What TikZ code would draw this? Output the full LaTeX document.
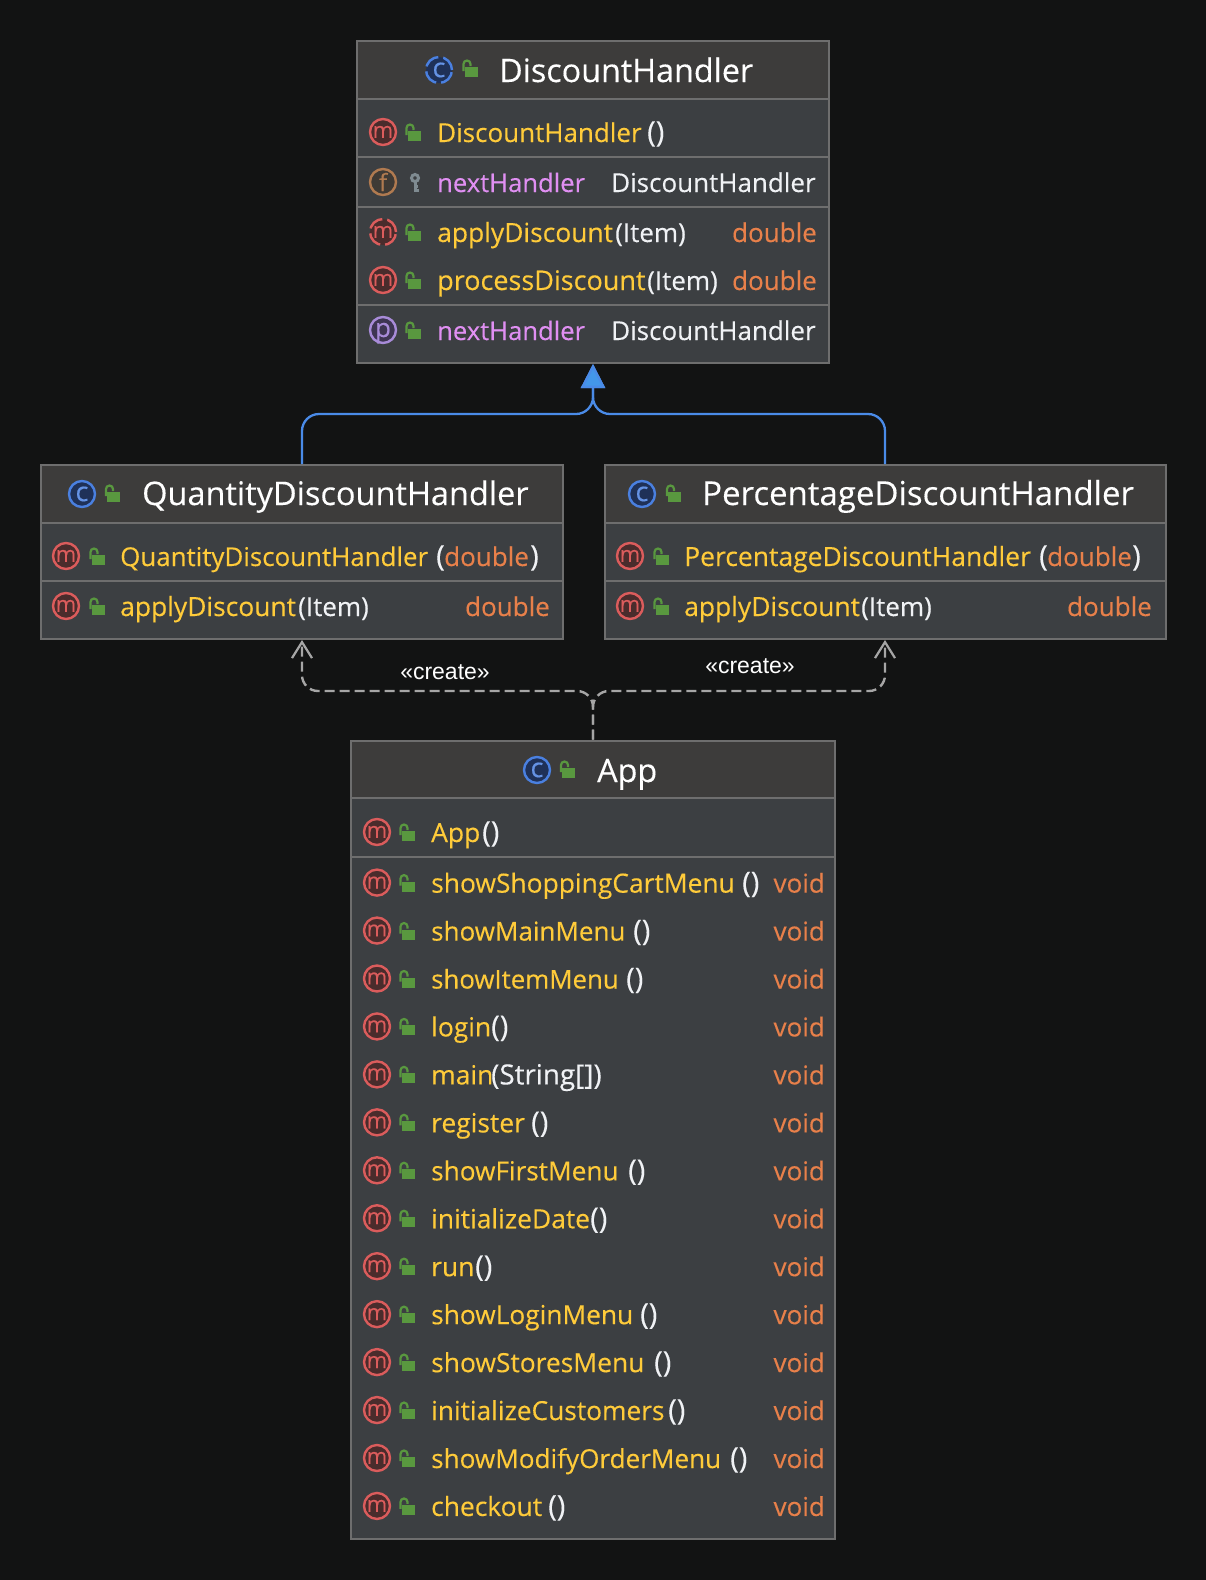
\documentclass[tikz,border=0pt]{standalone}
\usepackage{fontspec}
\setmainfont{Open Sans}[FakeBold=0.25]
\newfontfamily\labelfont{Liberation Sans}
\usetikzlibrary{arrows.meta}
\definecolor{bgcol}{HTML}{121313}
\definecolor{headcol}{HTML}{3D3C3B}
\definecolor{bodycol}{HTML}{3C3F42}
\definecolor{edgecol}{HTML}{6E6E6E}
\definecolor{methodcol}{HTML}{FFCB3A}
\definecolor{fieldcol}{HTML}{E08FF2}
\definecolor{typecol}{HTML}{E8804A}
\definecolor{plaincol}{HTML}{F0F2F5}
\definecolor{lockcol}{HTML}{59983F}
\definecolor{keycol}{HTML}{7F8B91}
\definecolor{bluecol}{HTML}{4A8BE8}
\definecolor{dashcol}{HTML}{A6A6A6}
\definecolor{mline}{HTML}{DB5C5C}
\definecolor{mfill}{HTML}{4A2C2C}
\definecolor{fline}{HTML}{B07A50}
\definecolor{ffill}{HTML}{3F3A35}
\definecolor{pline}{HTML}{A88BD8}
\definecolor{pfill}{HTML}{3E3552}
\definecolor{cline}{HTML}{4A80E0}
\definecolor{cfill}{HTML}{1F3158}
\tikzset{
  classbox/.style={draw=edgecol,line width=2pt,fill=bodycol,inner sep=0pt},
  sepline/.style={draw=edgecol,line width=2pt},
  icon/.style={circle,line width=2.4pt,minimum size=26pt,inner sep=0pt,font=\fontsize{22}{22}\selectfont},
  micon/.style={icon,draw=mline,fill=mfill,text=mline,text height=11.8pt,text depth=0pt},
  ficon/.style={icon,draw=fline,fill=ffill,text=fline,font=\fontsize{24}{24}\selectfont},
  picon/.style={icon,draw=pline,fill=pfill,text=pline,text height=14pt,text depth=0pt,font=\fontsize{26}{26}\selectfont},
  cicon/.style={icon,draw=cline,fill=cfill,text=cline!85!white,text height=14.4pt,text depth=0pt,font=\fontsize{27}{27}\selectfont},
  absicon/.style={dash pattern=on 16pt off 5pt},
  rowtext/.style={anchor=base west,inner sep=0pt,font=\fontsize{26.4}{30}\selectfont},
  rowsize/.style={font=\fontsize{#1}{30}\selectfont},
  titletext/.style={anchor=base west,inner sep=0pt,text=white,font=\fontsize{32.3}{36}\selectfont},
  mtext/.style={rowtext,text=methodcol},
  ftext/.style={rowtext,text=fieldcol,rowsize=25.6},
  ttext/.style={rowtext,text=typecol,rowsize=26},
  ptext/.style={rowtext,text=plaincol,rowsize=26},
  parens/.style={ptext,rowsize=29},
  inherit/.style={draw=bluecol,line width=2.3pt,rounded corners=17pt,-{Triangle[width=24pt,length=24pt,fill=bluecol!90!cyan]}},
  create/.style={draw=dashcol,line width=2.4pt,rounded corners=16pt,dash pattern=on 10pt off 5pt,-{Straight Barb[width=20pt,length=16pt,line width=2.2pt]}},
  createlabel/.style={inner sep=0pt,text=white,font=\labelfont\fontsize{23}{26}\selectfont},
}
\newcommand{\lockicon}[2]{
\draw[lockcol,line width=2.2pt] (#1-7.5,#2+3) -- (#1-7.5,#2-4) arc[start angle=180,end angle=0,radius=3.5pt] -- ++(0,2);
\fill[lockcol] (#1-6.5,#2-1) rectangle (#1+6.5,#2+9);
}
\newcommand{\boxheader}[5]{
\fill[headcol] (#2,#3) rectangle (#4,#5);
\draw[sepline] (#2,#5) -- (#4,#5);
\draw[edgecol,line width=2pt] (#2,#3) rectangle (#4,#5);
}
\begin{document}
\begin{tikzpicture}[x=1pt,y=-1pt]
\useasboundingbox (0,0) rectangle (1206,1580);
\fill[bgcol] (0,0) rectangle (1206,1580);
\node[classbox,minimum width=472pt,minimum height=322pt] (base) at (593,202) {};
\boxheader{base}{357}{41}{829}{99}
\draw[sepline] (357,157) -- (829,157);
\draw[sepline] (357,207) -- (829,207);
\draw[sepline] (357,305) -- (829,305);
\node[cicon,absicon] (baseicon) at (439,70) {c};
\lockicon{471}{68}
\node[titletext] (basetitle) at (499,82) {DiscountHandler};
\node[micon] (basem1) at (383,132) {m};
\lockicon{414}{132}
\node[mtext,rowsize=26] (basector) at (437,142) {DiscountHandler};
\node[parens] (basectorargs) at (647,142) {()};
\node[ficon] (basef) at (383,182) {f};
\draw[keycol,line width=3pt] (415,178) circle (3.5pt);
\draw[keycol,line width=3pt] (415,181) -- (415,192) (415,190) -- (419,190) (415,186) -- (418,186);
\node[ftext] (basefname) at (437,192) {nextHandler};
\node[ptext] (baseftype) at (611,192) {DiscountHandler};
\node[micon,absicon] (basem2) at (383,232) {m};
\lockicon{414}{232}
\node[mtext] (baseapply) at (437,242) {applyDiscount};
\node[ptext] (baseapplyargs) at (615,242) {(Item)};
\node[ttext,anchor=base east] (baseapplytype) at (817,242) {double};
\node[micon] (basem3) at (383,280) {m};
\lockicon{414}{280}
\node[mtext,rowsize=27] (baseproc) at (437,290) {processDiscount};
\node[ptext] (baseprocargs) at (647,290) {(Item)};
\node[ttext,anchor=base east] (baseproctype) at (817,290) {double};
\node[picon] (basep) at (383,330) {p};
\lockicon{414}{330}
\node[ftext] (basepname) at (437,340) {nextHandler};
\node[ptext] (baseptype) at (611,340) {DiscountHandler};
\node[classbox,minimum width=522pt,minimum height=174pt] (qdh) at (302,552) {};
\boxheader{qdh}{41}{465}{563}{523}
\draw[sepline] (41,581) -- (563,581);
\node[cicon] (qdhicon) at (82,494) {c};
\lockicon{113.5}{493}
\node[titletext,font=\fontsize{32.5}{36}\selectfont] (qdhtitle) at (142,505) {QuantityDiscountHandler};
\node[micon] (qdhm1) at (66,556) {m};
\lockicon{98}{556}
\node[mtext,rowsize=25.9] (qdhctor) at (120,566) {QuantityDiscountHandler};
\node[parens] (qdhopen) at (436,566) {(};
\node[ttext] (qdhctorargs) at (444,566) {double};
\node[parens] (qdhclose) at (530,566) {)};
\node[micon] (qdhm2) at (66,606) {m};
\lockicon{98}{606}
\node[mtext] (qdhapply) at (120,616) {applyDiscount};
\node[ptext] (qdhapplyargs) at (298,616) {(Item)};
\node[ttext,anchor=base east] (qdhapplytype) at (550,616) {double};
\node[classbox,minimum width=561pt,minimum height=174pt] (pdh) at (885,552) {};
\boxheader{pdh}{604.5}{465}{1165.5}{523}
\draw[sepline] (604.5,581) -- (1165.5,581);
\node[cicon] (pdhicon) at (642,494) {c};
\lockicon{674.5}{493}
\node[titletext,font=\fontsize{33}{36}\selectfont] (pdhtitle) at (702,505) {PercentageDiscountHandler};
\node[micon] (pdhm1) at (630,556) {m};
\lockicon{662}{556}
\node[mtext,rowsize=26.5] (pdhctor) at (684,566) {PercentageDiscountHandler};
\node[parens] (pdhopen) at (1039,566) {(};
\node[ttext] (pdhctorargs) at (1047,566) {double};
\node[parens] (pdhclose) at (1132,566) {)};
\node[micon] (pdhm2) at (630,606) {m};
\lockicon{662}{606}
\node[mtext] (pdhapply) at (684,616) {applyDiscount};
\node[ptext] (pdhapplyargs) at (861,616) {(Item)};
\node[ttext,anchor=base east] (pdhapplytype) at (1152,616) {double};
\node[classbox,minimum width=484pt,minimum height=798pt] (app) at (593,1139.5) {};
\boxheader{app}{351}{740.5}{835}{798}
\draw[sepline] (351,857) -- (835,857);
\node[cicon] (appicon) at (537,770) {c};
\lockicon{568.5}{769}
\node[titletext] (apptitle) at (597,782) {App};
\node[micon] (appctoricon) at (377,832) {m};
\lockicon{408}{832}
\node[mtext] (appctor) at (431,842) {App};
\node[parens] (appctorargs) at (482,842) {()};
\foreach \mname/\argx/\msize [count=\i] in {showShoppingCartMenu/742/26.4,showMainMenu/633/26,showItemMenu/626/25.8,login/491/26.4,main/491/26.4,register/531/26.4,showFirstMenu/628/26.2,initializeDate/590/26.4,run/475/26.4,showLoginMenu/640/26.3,showStoresMenu/654/26.4,initializeCustomers/668/26.3,showModifyOrderMenu/730/26.1,checkout/548/26.4}
{
\pgfmathsetmacro{\rowy}{882.6+(\i-1)*47.95}
\node[micon] (appicon\i) at (377,\rowy) {m};
\lockicon{408}{\rowy}
\node[mtext,rowsize=\msize] (appname\i) at (431,\rowy+10) {\mname};
\ifnum\i=5
\node[parens,rowsize=27.8] (appargs\i) at (\argx,\rowy+10) {(String[])};
\else
\node[parens] (appargs\i) at (\argx,\rowy+10) {()};
\fi
\node[ttext,anchor=base east] (apptype\i) at (825,\rowy+10) {void};
}
\coordinate (inhjoin) at (base.south |- 0,414);
\draw[inherit] (qdh.north) |- (inhjoin) -- (base.south);
\draw[inherit] (pdh.north) |- (inhjoin) -- (base.south);
\coordinate (depjoin) at (app.north |- 0,691);
\draw[create] (app.north) -- (depjoin) -| (qdh.south);
\draw[create] (app.north) -- (depjoin) -| (pdh.south);
\node[createlabel] (labelq) at (445,672) {«create»};
\node[createlabel] (labelp) at (750,666) {«create»};
\end{tikzpicture}
\end{document}
